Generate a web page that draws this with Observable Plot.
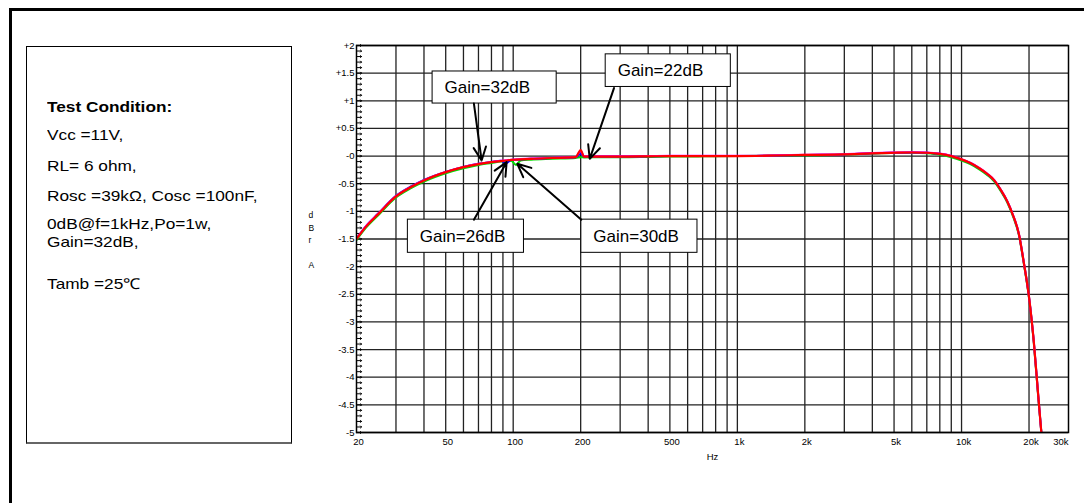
<!DOCTYPE html>
<html><head><meta charset="utf-8">
<script src="https://cdn.jsdelivr.net/npm/d3@7"></script>
<script src="https://cdn.jsdelivr.net/npm/@observablehq/plot@0.6"></script>
<style>
body{margin:0;background:#fff;}
#page{position:relative;width:1084px;height:503px;overflow:hidden;font-family:"Liberation Sans",Arial,sans-serif;background:#fff;}
#frame{position:absolute;left:9px;top:8px;width:1100px;height:520px;border-left:3px solid #000;border-top:3px solid #000;}
#cond{position:absolute;left:26px;top:46px;width:264px;height:395px;border:1px solid #000;border-bottom:2px solid #666;}
.ln{position:absolute;left:20px;font-size:15px;white-space:nowrap;line-height:13px;color:#000;transform:scaleX(1.15);transform-origin:0 0;}
#chart{position:absolute;left:300px;top:30px;}
</style></head>
<body>
<div id="page">
  <div id="frame"></div>
  <div id="cond">
    <div class="ln" style="top:53.3px;font-weight:bold">Test Condition:</div>
    <div class="ln" style="top:81.3px">Vcc =11V,</div>
    <div class="ln" style="top:112px">RL= 6 ohm,</div>
    <div class="ln" style="top:142px">Rosc =39kΩ, Cosc =100nF,</div>
    <div class="ln" style="top:170.3px">0dB@f=1kHz,Po=1w,</div>
    <div class="ln" style="top:187.5px">Gain=32dB,</div>
    <div class="ln" style="top:230.3px">Tamb =25℃</div>
  </div>
  <div id="chart"></div>
</div>
<script>
// Frequency points (Hz)
const freq = [20,22,25,30,35,40,50,60,70,80,
  88,93,98,103,108,120,150,190,200,207,
  250,300,400,500,700,1000,1500,2000,3000,4000,
  5000,6000,7000,8000,9000,10000,11000,12000,13000,14000,
  15000,16000,17000,18000,19000,20000,21000,22000,22700];

// Response curves (dBrA)
const greenDb = [-1.52,-1.30,-1.07,-0.75,-0.58,-0.46,-0.31,-0.22,-0.16,-0.125,
  -0.10,-0.09,-0.085,-0.16,-0.08,-0.065,-0.05,-0.035,-0.02,-0.025,
  -0.02,-0.02,-0.015,-0.01,-0.005,0,0.01,0.015,0.025,0.045,
  0.055,0.06,0.05,0.025,-0.02,-0.08,-0.15,-0.24,-0.34,-0.46,
  -0.64,-0.84,-1.10,-1.42,-1.97,-2.57,-3.37,-4.37,-5.0];
const blueDb = [-1.49,-1.27,-1.04,-0.72,-0.55,-0.43,-0.285,-0.195,-0.14,-0.105,
  -0.085,-0.13,-0.07,-0.065,-0.06,-0.05,-0.035,-0.02,0.04,-0.01,
  -0.01,-0.01,-0.005,0,0,0,0.01,0.02,0.03,0.05,
  0.06,0.065,0.06,0.04,0.0,-0.06,-0.13,-0.22,-0.32,-0.44,
  -0.62,-0.82,-1.08,-1.40,-1.95,-2.55,-3.35,-4.35,-5.0];
const magentaDb = [-1.49,-1.27,-1.04,-0.725,-0.555,-0.435,-0.285,-0.195,-0.14,-0.105,
  -0.085,-0.075,-0.065,-0.06,-0.055,-0.045,-0.03,-0.015,0.09,-0.005,
  -0.005,-0.005,0,0.005,0.005,0.005,0.015,0.025,0.035,0.055,
  0.065,0.07,0.065,0.045,0.005,-0.055,-0.125,-0.215,-0.315,-0.435,
  -0.615,-0.815,-1.075,-1.395,-1.945,-2.545,-3.345,-4.345,-5.0];
const redDb = [-1.50,-1.28,-1.05,-0.73,-0.56,-0.44,-0.29,-0.20,-0.145,-0.11,
  -0.09,-0.08,-0.07,-0.065,-0.06,-0.05,-0.035,-0.02,0.11,-0.01,
  -0.01,-0.01,-0.005,0,0,0,0.01,0.02,0.03,0.05,
  0.06,0.065,0.06,0.04,0.0,-0.06,-0.13,-0.22,-0.32,-0.44,
  -0.62,-0.82,-1.08,-1.40,-1.95,-2.55,-3.35,-4.35,-5.0];

const seriesValues = [greenDb, blueDb, magentaDb, redDb];
const seriesColors = ["#00dd00", "#0000ff", "#ff00ff", "#ff0000"];
const seriesWidths = [2, 2, 2, 2.2];

// Axes
const xGrid = [30,40,50,60,70,80,90,100,200,300,400,500,600,700,800,900,
  1000,2000,3000,4000,5000,6000,7000,8000,9000,10000,20000];
const xTicks = [20,50,100,200,500,1000,2000,5000,10000,20000];
const xTickLabels = ["20","50","100","200","500","1k","2k","5k","10k","20k"];
const xEdgeTick = [30000];
const xEdgeLabel = ["30k"];
const yTicks = [2,1.5,1,0.5,0,-0.5,-1,-1.5,-2,-2.5,-3,-3.5,-4,-4.5,-5];
const yTickLabels = ["+2","+1.5","+1","+0.5","-0","-0.5","-1","-1.5","-2","-2.5","-3","-3.5","-4","-4.5","-5"];
const yMinor = d3.range(-50, 21).map(i => i / 10);

// Annotations
const annLabels = ["Gain=32dB","Gain=22dB","Gain=26dB","Gain=30dB"];
const boxF1 = [43.7, 258.6, 33.9, 201.4];
const boxF2 = [156.3, 935, 111.7, 663.8];
const boxTop = [1.53, 1.84, -1.15, -1.15];
const boxBottom = [0.95, 1.25, -1.75, -1.75];
const arrowF1 = [66.8, 281.6, 66.8, 201.4];
const arrowDb1 = [0.95, 1.23, -1.15, -1.15];
const arrowF2 = [72.3, 219.5, 93.5, 104.3];
const arrowDb2 = [-0.08, -0.05, -0.11, -0.14];

const yLabelMap = new Map(yTicks.map((v, i) => [v, yTickLabels[i]]));
const ann = annLabels.map((label, i) => ({
  label, f1: boxF1[i], f2: boxF2[i], top: boxTop[i], bottom: boxBottom[i],
  mid: (boxTop[i] + boxBottom[i]) / 2,
  af1: arrowF1[i], ad1: arrowDb1[i], af2: arrowF2[i], ad2: arrowDb2[i]
}));

const font = "'Liberation Sans', Arial, sans-serif";
const chart = Plot.plot({
  width: 784, height: 450,
  marginLeft: 56, marginRight: 16, marginTop: 15, marginBottom: 48,
  x: {type: "log", domain: [20, 30000], axis: null},
  y: {domain: [-5, 2]},
  style: {fontFamily: font, fontSize: "9px", color: "#000", background: "transparent", overflow: "visible"},
  marks: [
    Plot.ruleX(xGrid, {stroke: "#222", strokeWidth: 1.3}),
    Plot.ruleY(yTicks, {stroke: "#222", strokeWidth: 1.3}),
    Plot.vector(yMinor, {y: d => d, frameAnchor: "left", rotate: 90, length: 5, anchor: "start", stroke: "#000", strokeWidth: 1}),
    ...seriesValues.map((vals, s) => Plot.line(freq, {
      x: d => d, y: (d, i) => vals[i], stroke: seriesColors[s], strokeWidth: seriesWidths[s], curve: "monotone-x", clip: true
    })),
    Plot.frame({stroke: "#000", strokeWidth: 1.5}),
    Plot.axisY({ticks: yTicks, tickFormat: d => yLabelMap.get(d), tickSize: 0, tickPadding: 2, label: null, fontSize: 9.5}),
    Plot.text(xTicks, {x: d => d, text: (d, i) => xTickLabels[i], frameAnchor: "bottom", dy: 12, dx: 2, fontSize: 9.5}),
    Plot.text(xEdgeTick, {x: d => d, text: (d, i) => xEdgeLabel[i], frameAnchor: "bottom", dy: 12, textAnchor: "end", fontSize: 9.5}),
    Plot.text(["Hz"], {frameAnchor: "bottom", dy: 27, fontSize: 9.5}),
    Plot.text(["d\nB\nr\n\nA"], {frameAnchor: "left", dx: -48, lineHeight: 1.45, fontSize: 8.5}),
    Plot.rect(ann, {x1: "f1", x2: "f2", y1: "bottom", y2: "top", fill: "#fff", stroke: "#000", strokeWidth: 1}),
    Plot.text(ann, {x: "f1", y: "mid", text: "label", dx: 12, textAnchor: "start", fontSize: 17}),
    Plot.arrow(ann, {x1: "af1", y1: "ad1", x2: "af2", y2: "ad2", stroke: "#000", strokeWidth: 2, headLength: 11, headAngle: 50})
  ]
});
document.getElementById("chart").appendChild(chart);
</script>
</body></html>
